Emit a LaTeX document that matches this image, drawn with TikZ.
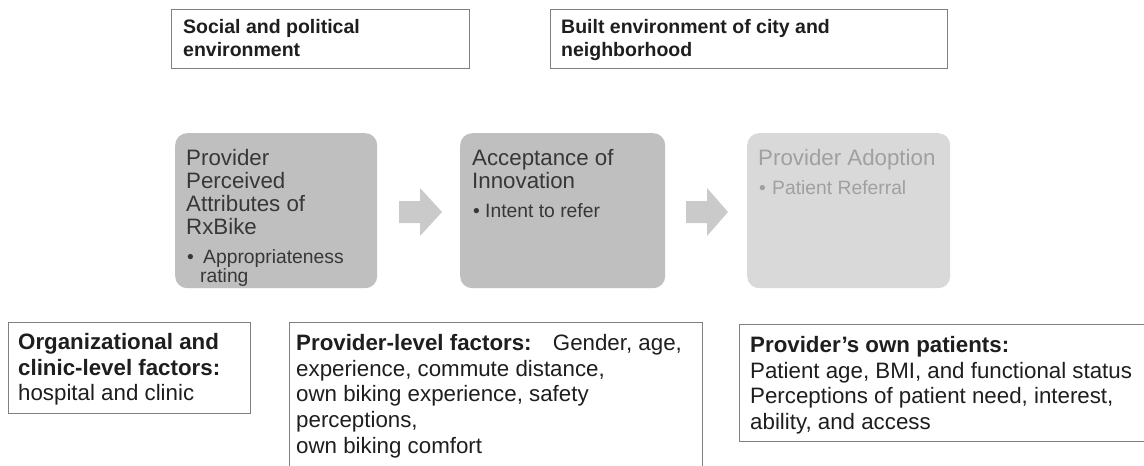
\documentclass[tikz,border=0pt]{standalone}
\usepackage{fontspec}
\setmainfont{Liberation Sans}
\definecolor{boxline}{RGB}{128,128,128}
\definecolor{stagefill}{RGB}{191,191,191}
\definecolor{stagetext}{RGB}{55,55,55}
\definecolor{lightfill}{RGB}{217,217,217}
\definecolor{lighttext}{RGB}{160,160,160}
\definecolor{arrowfill}{RGB}{202,202,202}
\definecolor{inktext}{RGB}{30,30,30}
\begin{document}
\begin{tikzpicture}[x=1pt,y=-1pt,
  envbox/.style={draw=boxline, line width=1.1pt, fill=white, inner sep=0pt, anchor=north west},
  stagebox/.style={rounded corners=12pt, inner sep=0pt, anchor=north west},
  txt/.style={anchor=north west, inner sep=0pt, align=left},
  toptxt/.style={txt, text=inktext, font=\fontsize{19.5}{23}\selectfont\bfseries},
  lowtxt/.style={txt, text=inktext, font=\fontsize{22.3}{25.8}\selectfont},
  titletxt/.style={txt, font=\fontsize{22.3}{23}\selectfont},
  bullettxt/.style={txt, font=\fontsize{19.3}{19.5}\selectfont},
]
\useasboundingbox (0,0) rectangle (1144,466);
\fill[white] (0,0) rectangle (1144,466);

% top environment boxes
\node[envbox, minimum width=298pt, minimum height=59pt] (social) at (171,9) {};
\node[envbox, minimum width=397pt, minimum height=59pt] (built) at (550,9) {};
\node[toptxt] (socialtext) at (183,17) {\rule{0pt}{16pt}Social and political\\environment};
\node[toptxt] (builttext) at (561,17) {\rule{0pt}{16pt}Built environment of city and\\neighborhood};

% stage boxes
\node[stagebox, fill=stagefill, minimum width=202pt, minimum height=155pt] (attr) at (175,133) {};
\node[stagebox, fill=stagefill, minimum width=205pt, minimum height=155pt] (accept) at (460,133) {};
\node[stagebox, fill=lightfill, minimum width=203pt, minimum height=155pt] (adopt) at (747,133) {};

\node[titletxt, text=stagetext] (attrtitle) at (186,147) {\rule{0pt}{18pt}Provider\\Perceived\\Attributes of\\RxBike};
\node[bullettxt, text=stagetext] (attrbullet) at (187,247) {\rule{0pt}{16pt}\makebox[16pt][l]{•}Appropriateness\\\hspace{13pt}rating};

\node[titletxt, text=stagetext] (accepttitle) at (472,147) {\rule{0pt}{18pt}Acceptance of\\Innovation};
\node[bullettxt, text=stagetext] (acceptbullet) at (473,201) {\rule{0pt}{16pt}\makebox[12pt][l]{•}Intent to refer};

\node[titletxt, text=lighttext] (adopttitle) at (758,147) {\rule{0pt}{18pt}Provider Adoption};
\node[bullettxt, text=lighttext] (adoptbullet) at (759,178) {\rule{0pt}{16pt}\makebox[13pt][l]{•}Patient Referral};

% block arrows
\fill[arrowfill] (399,201) -- (420,201) -- (420,188) -- (442,212) -- (420,236) -- (420,223) -- (399,223) -- cycle;
\fill[arrowfill] (686,201) -- (707,201) -- (707,188) -- (728,212) -- (707,236) -- (707,223) -- (686,223) -- cycle;

% lower factor boxes
\node[envbox, minimum width=242pt, minimum height=91pt] (org) at (8,322) {};
\node[envbox, minimum width=413pt, minimum height=170pt] (prov) at (289,322) {};
\node[envbox, minimum width=420pt, minimum height=117pt] (pat) at (739,324) {};

\node[lowtxt] (orgtext) at (18,329) {\rule{0pt}{20pt}\textbf{Organizational and}\\\textbf{clinic-level factors:}\\hospital and clinic};
\node[lowtxt] (provtext) at (296,330) {\rule{0pt}{20pt}\textbf{Provider-level factors:}\hspace{13pt} Gender, age,\\experience, commute distance,\\own biking experience, safety\\perceptions,\\own biking comfort};
\node[lowtxt] (pattext) at (750,332) {\rule{0pt}{20pt}\textbf{Provider’s own patients:}\\Patient age, BMI, and functional status\\Perceptions of patient need, interest,\\ability, and access};
\end{tikzpicture}
\end{document}
